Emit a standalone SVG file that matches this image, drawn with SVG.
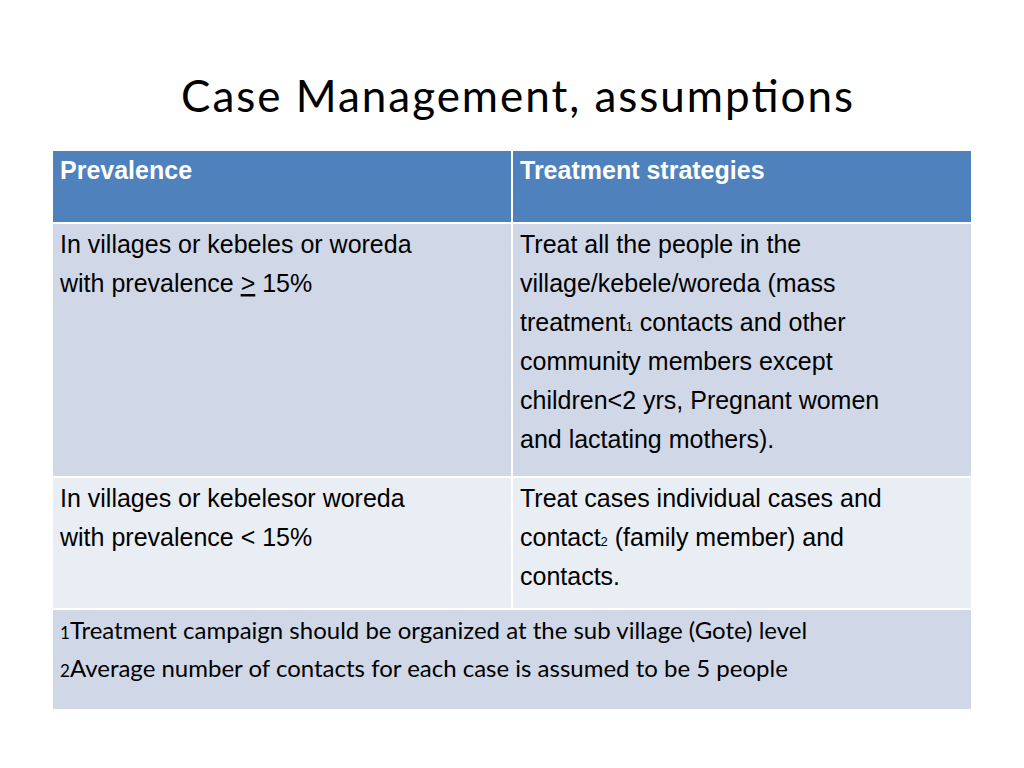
<svg xmlns="http://www.w3.org/2000/svg" width="1024" height="768" viewBox="0 0 1024 768">
<style>
.b{font-family:"Liberation Sans",Arial,sans-serif;font-size:25px;fill:#000}
.h{font-family:"Liberation Sans",Arial,sans-serif;font-size:25px;font-weight:bold;fill:#fff}
.f{font-family:Lato,"Open Sans",sans-serif;font-size:24px;fill:#000}
.s{font-size:13px}
</style>
<rect width="1024" height="768" fill="#fff"/>
<text x="517" y="112" text-anchor="middle" font-family="Lato,'Open Sans',sans-serif" font-size="44" textLength="672" fill="#000">Case Management, assumptions</text>
<g id="table" stroke="#fff" stroke-width="2">
<rect x="52" y="150" width="460" height="73" fill="#4F81BD"/>
<rect x="512" y="150" width="460" height="73" fill="#4F81BD"/>
<rect x="52" y="223" width="460" height="254" fill="#D0D8E8"/>
<rect x="512" y="223" width="460" height="254" fill="#D0D8E8"/>
<rect x="52" y="477" width="460" height="132" fill="#E9EDF4"/>
<rect x="512" y="477" width="460" height="132" fill="#E9EDF4"/>
<rect x="52" y="609" width="920" height="101" fill="#D0D8E8"/>
</g>
<g id="text">
<text class="h" x="60" y="179">Prevalence</text>
<text class="h" x="520" y="179">Treatment strategies</text>
<text class="b" x="60" y="253">In villages or kebeles or woreda</text>
<text class="b" x="60" y="292">with prevalence <tspan text-decoration="underline">&gt;</tspan> 15%</text>
<text class="b" x="520" y="253">Treat all the people in the</text>
<text class="b" x="520" y="292">village/kebele/woreda (mass</text>
<text class="b" x="520" y="331">treatment<tspan class="s">1</tspan> contacts and other</text>
<text class="b" x="520" y="370">community members except</text>
<text class="b" x="520" y="409">children&lt;2 yrs, Pregnant women</text>
<text class="b" x="520" y="448">and lactating mothers).</text>
<text class="b" x="60" y="507">In villages or kebelesor woreda</text>
<text class="b" x="60" y="546">with prevalence &lt; 15%</text>
<text class="b" x="520" y="507">Treat cases individual cases and</text>
<text class="b" x="520" y="546">contact<tspan class="s">2</tspan> (family member) and</text>
<text class="b" x="520" y="585">contacts.</text>
<text class="f" x="60" y="639"><tspan font-size="17">1</tspan>Treatment campaign should be organized at the sub village (Gote) level</text>
<text class="f" x="60" y="677"><tspan font-size="17">2</tspan>Average number of contacts for each case is assumed to be 5 people</text>
</g>
</svg>
